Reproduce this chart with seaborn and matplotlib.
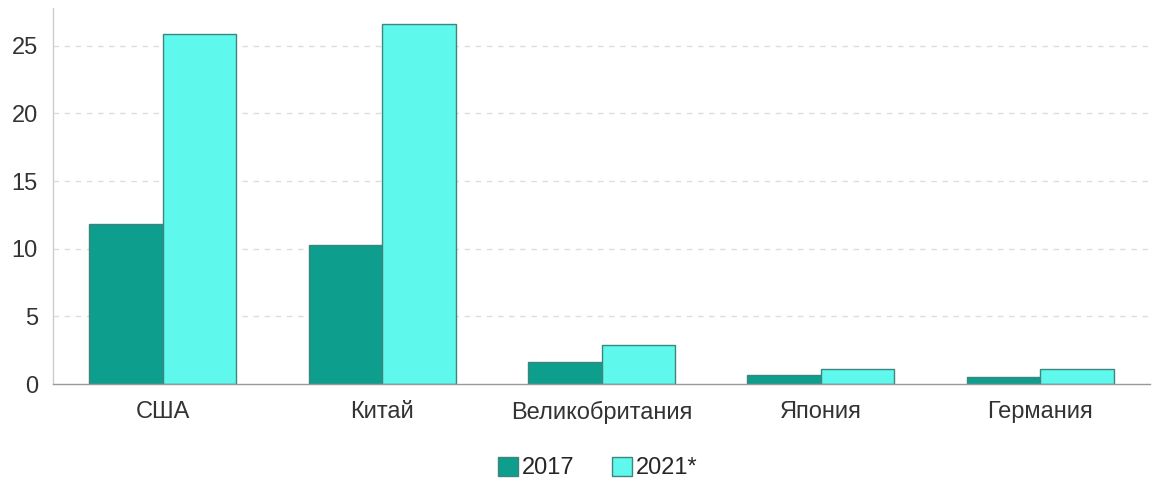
import matplotlib
matplotlib.use("Agg")
import matplotlib.pyplot as plt
import seaborn as sns
import pandas as pd
from matplotlib.patches import Patch

countries = ["США", "Китай", "Великобритания", "Япония", "Германия"]
years = ["2017", "2021*"]
values_2017 = [11.8, 10.3, 1.6, 0.65, 0.5]
values_2021 = [25.9, 26.6, 2.9, 1.1, 1.1]
y_ticks = [0, 5, 10, 15, 20, 25]

colors = {"2017": "#0e9e8d", "2021*": "#5ef8ec"}
edge = "#3f857d"

df = pd.DataFrame({
    "country": countries * 2,
    "year": [years[0]] * len(countries) + [years[1]] * len(countries),
    "value": values_2017 + values_2021,
})

sns.set_style("white")
plt.rcParams["font.family"] = ["Liberation Sans", "DejaVu Sans"]

fig = plt.figure(figsize=(11.54, 4.84), dpi=100)
ax = fig.add_axes([0.046, 0.2066, 0.9505, 0.777])

sns.barplot(data=df, x="country", y="value", hue="year", order=countries,
            hue_order=years, palette=colors, saturation=1, width=0.67, gap=0,
            edgecolor=edge, linewidth=1.0, ax=ax, legend=False, errorbar=None)

ax.set_xlim(-0.5, len(countries) - 0.5)
ax.set_ylim(0, 27.8)
ax.set_yticks(y_ticks)
ax.set_yticklabels([str(t) for t in y_ticks])
ax.set_xlabel("")
ax.set_ylabel("")

for t in y_ticks[1:]:
    ax.axhline(t, color="#dddddd", linestyle=(0, (4, 4)), linewidth=1, zorder=0)

for s in ["top", "right"]:
    ax.spines[s].set_visible(False)
ax.spines["left"].set_color("#cccccc")
ax.spines["bottom"].set_color("#999999")
ax.spines["left"].set_linewidth(1)
ax.spines["bottom"].set_linewidth(1)

ax.tick_params(axis="y", length=8, width=1, color="#cccccc", labelsize=17,
               labelcolor="#333333", pad=3)
ax.tick_params(axis="x", which="major", length=0, labelsize=17,
               labelcolor="#333333", pad=12)
ax.set_xticks([i - 0.5 for i in range(len(countries) + 1)], minor=True)
ax.tick_params(axis="x", which="minor", length=8, width=1, color="#cccccc")

handles = [Patch(facecolor=colors[y], edgecolor=edge, label=y) for y in years]
fig.legend(handles=handles, loc="center", bbox_to_anchor=(0.518, 0.033),
           ncol=2, frameon=False, fontsize=17, handlelength=0.85,
           handleheight=0.85, handletextpad=0.15, columnspacing=1.6)

fig.savefig("out.png", dpi=100)
